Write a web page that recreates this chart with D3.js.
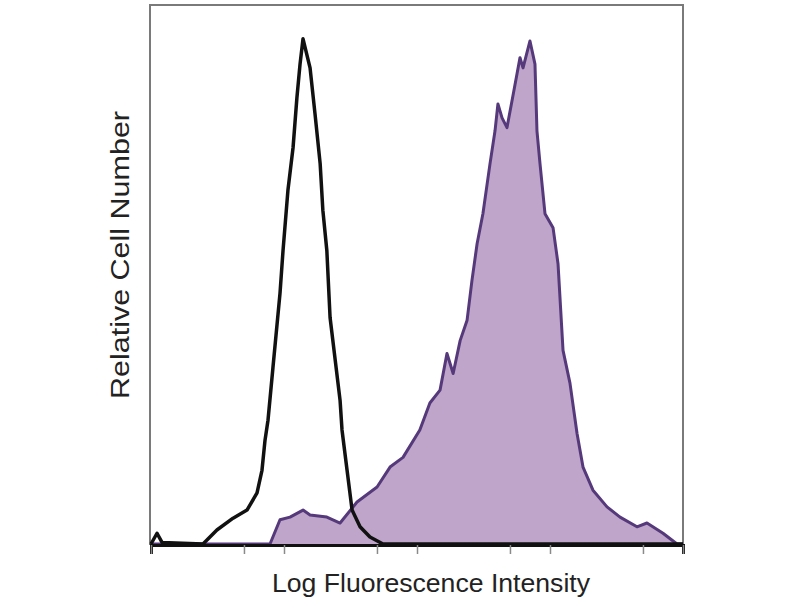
<!DOCTYPE html>
<html>
  <head>
    <script src="https://cdn.jsdelivr.net/npm/d3@7"></script>
    <style>
      body,
      html {
        margin: 0;
        background: #fff;
        font-family: "Liberation Sans", Arial, sans-serif;
        overflow: hidden;
      }
    </style>
    <title>Histogram</title>
  </head>
  <body>
    <svg id="hist" width="800" height="600"></svg>

    <script>
      // isotype control (black, open)
      var controlFI = [1, 1.11, 1.21, 2.46, 3.13, 4.14, 5.27, 6.27, 6.83, 7.2, 7.58, 8.26, 9.33, 9.83, 10.7, 11.7, 12.5, 13.2, 13.9, 15.7, 17.1, 18.7, 19.6, 21.0, 22.2, 26.4, 27.3, 29.8, 32.5, 37.3, 44.3, 55.5, 10000];
      var controlCount = [0, 2.0, 0.3, 0, 2.6, 4.8, 6.3, 9.5, 13.7, 19.3, 23.0, 32.8, 46.6, 54.5, 65.7, 73.7, 82.9, 89.2, 93.9, 88.5, 80.0, 70.7, 62.0, 54.5, 42.1, 26.7, 21.2, 13.7, 6.3, 3.2, 1.3, 0, 0];

      // stained sample (purple, filled)
      var stainFI = [1, 7.85, 9.33, 11.1, 13.9, 15.7, 21.0, 26.4, 35.4, 50.1, 62.7, 78.5, 105, 125, 149, 168, 187, 211, 238, 259, 283, 313, 354, 386, 406, 436, 475, 518, 565, 595, 627, 707, 771, 798, 841, 917, 1054, 1149, 1253, 1413, 1596, 1771, 2104, 2683, 3361, 4508, 5358, 7073, 9017, 10000];
      var stainCount = [0, 0, 4.5, 5.0, 6.3, 5.4, 5.0, 3.9, 7.8, 10.6, 14.3, 16.1, 21.2, 26.2, 28.6, 35.4, 31.7, 37.8, 41.6, 49.0, 55.8, 61.4, 70.7, 76.8, 81.8, 79.2, 77.4, 82.4, 87.4, 90.4, 88.5, 93.5, 89.2, 76.8, 70.7, 61.4, 58.8, 52.1, 36.0, 29.9, 20.6, 14.3, 10.0, 6.9, 5.0, 3.2, 3.9, 2.0, 0, 0];

      var tickVals = [1, 5, 10, 50, 100, 500, 1000, 5000, 10000];

      var svg = d3.select("#hist");
      var plotLeft = 151, plotRight = 683, plotTop = 6, plotBottom = 544;

      var x = d3.scaleLog().domain([1, 10000]).range([plotLeft, plotRight]);
      var y = d3.scaleLinear().domain([0, 100]).range([plotBottom, plotTop]);

      var control = controlFI.map(function (v, i) {
        return { fi: v, n: controlCount[i] };
      });
      var stain = stainFI.map(function (v, i) {
        return { fi: v, n: stainCount[i] };
      });

      var area = d3
        .area()
        .x(function (d) { return x(d.fi); })
        .y0(y(0))
        .y1(function (d) { return y(d.n); });
      var line = d3
        .line()
        .x(function (d) { return x(d.fi); })
        .y(function (d) { return y(d.n); });

      // frame
      svg
        .append("rect")
        .attr("x", plotLeft - 1)
        .attr("y", plotTop - 1)
        .attr("width", plotRight - plotLeft + 1)
        .attr("height", plotBottom - plotTop + 1)
        .attr("fill", "none")
        .attr("stroke", "#7a7a7a")
        .attr("stroke-width", 2);

      svg.append("path").datum(stain).attr("d", area).attr("fill", "#bea5c9");
      svg
        .append("path")
        .datum(stain)
        .attr("d", line)
        .attr("fill", "none")
        .attr("stroke", "#55397a")
        .attr("stroke-width", 3)
        .attr("stroke-linejoin", "round");

      svg
        .append("path")
        .datum(control)
        .attr("d", line)
        .attr("fill", "none")
        .attr("stroke", "#111")
        .attr("stroke-width", 3.5)
        .attr("stroke-linejoin", "round");

      // x axis: minor ticks, no labels
      var xAxis = d3.axisBottom(x).tickValues(tickVals).tickSize(9).tickFormat("");
      var gx = svg
        .append("g")
        .attr("transform", "translate(0," + (plotBottom + 1) + ")")
        .call(xAxis);
      gx.select(".domain").attr("stroke", "#111").attr("stroke-width", 3);
      gx.selectAll(".tick line").attr("stroke", "#8a8a8a").attr("stroke-width", 1.5);

      svg
        .append("text")
        .attr("x", 431)
        .attr("y", 592)
        .attr("text-anchor", "middle")
        .attr("font-size", 26)
        .attr("textLength", 318)
        .attr("lengthAdjust", "spacingAndGlyphs")
        .attr("fill", "#222")
        .text("Log Fluorescence Intensity");

      svg
        .append("text")
        .attr("transform", "translate(129,255) rotate(-90)")
        .attr("text-anchor", "middle")
        .attr("font-size", 26)
        .attr("textLength", 288)
        .attr("lengthAdjust", "spacingAndGlyphs")
        .attr("fill", "#222")
        .text("Relative Cell Number");
    </script>
  </body>
</html>
